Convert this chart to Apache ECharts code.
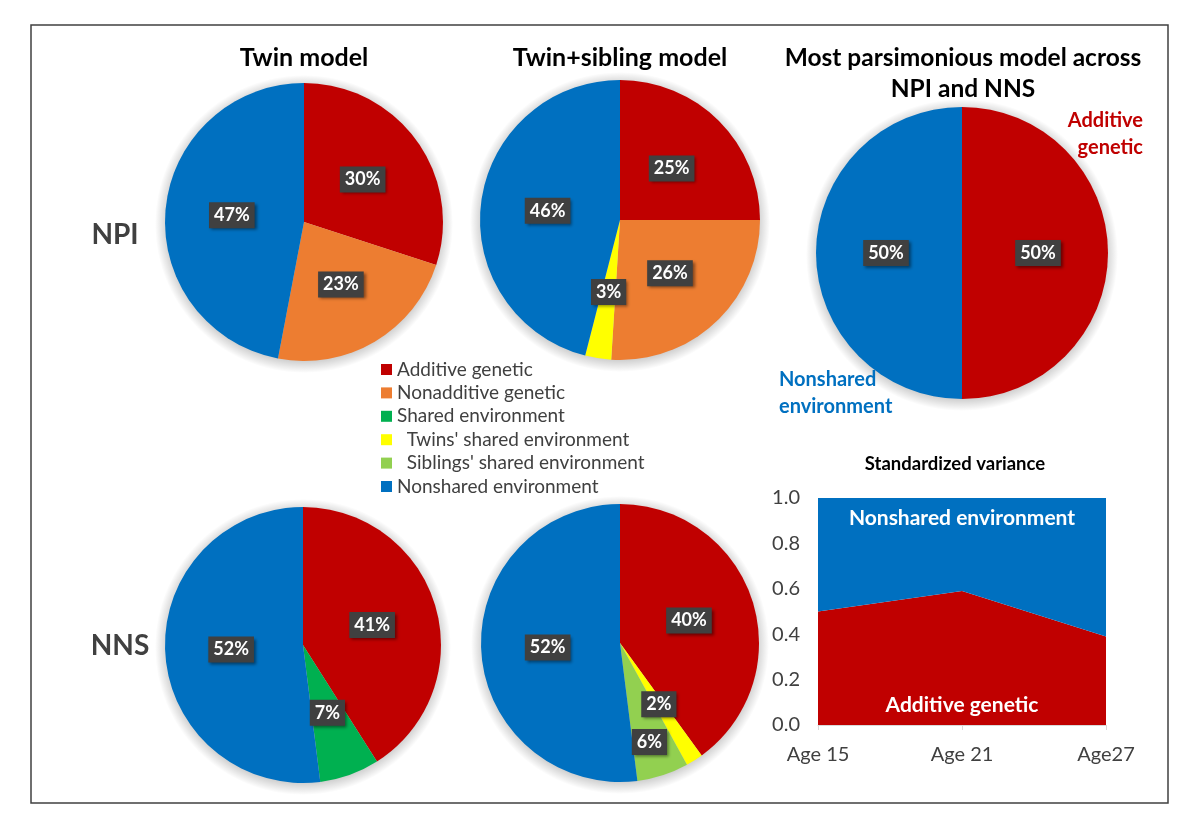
<!DOCTYPE html>
<html>
<head>
<meta charset="UTF-8">
<title>NPI / NNS variance components</title>
<script src="https://cdn.jsdelivr.net/npm/echarts@6/dist/echarts.min.js"></script>
<style>
  html, body { margin: 0; padding: 0; background: #fff; }
  #main { width: 1200px; height: 833px; }
</style>
</head>
<body>
<div id="main"></div>
<script>
// legend categories
var categories = ['Additive genetic', 'Nonadditive genetic', 'Shared environment',
  "Twins' shared environment", "Siblings' shared environment", 'Nonshared environment'];

// NPI pies (percent)
var npiTwinNames = ['Additive genetic', 'Nonadditive genetic', 'Nonshared environment'];
var npiTwinValues = [30, 23, 47];
var npiSibNames = ['Additive genetic', 'Nonadditive genetic', "Twins' shared environment", 'Nonshared environment'];
var npiSibValues = [25, 26, 3, 46];

// NNS pies (percent)
var nnsTwinNames = ['Additive genetic', 'Shared environment', 'Nonshared environment'];
var nnsTwinValues = [41, 7, 52];
var nnsSibNames = ['Additive genetic', "Twins' shared environment", "Siblings' shared environment", 'Nonshared environment'];
var nnsSibValues = [40, 2, 6, 52];

// most parsimonious model
var bestNames = ['Additive genetic', 'Nonshared environment'];
var bestValues = [50, 50];

// standardized variance by age
var ages = ['Age 15', 'Age 21', 'Age27'];
var additiveByAge = [0.50, 0.59, 0.39];
var nonsharedByAge = [0.50, 0.41, 0.61];
var yTicks = [0, 0.2, 0.4, 0.6, 0.8, 1.0];

var colorMap = {
  'Additive genetic': '#C00000',
  'Nonadditive genetic': '#ED7D31',
  'Shared environment': '#00B050',
  "Twins' shared environment": '#FFFF00',
  "Siblings' shared environment": '#92D050',
  'Nonshared environment': '#0070C0'
};
var FONT = 'Lato, "Open Sans", sans-serif';

var chart = echarts.init(document.getElementById('main'));

// soft halo under each pie: a slightly bigger disc with a radial fade
// (named after a legend entry, otherwise the legend filter drops it)
function shadowPie(center, r) {
  var R = r + 10;
  return {
    type: 'pie', silent: true, center: [center[0], center[1] + 2], radius: R, z: 1,
    label: { show: false }, labelLine: { show: false },
    itemStyle: {
      color: new echarts.graphic.RadialGradient(0.5, 0.5, 0.5, [
        { offset: 0, color: 'rgba(0,0,0,0.2)' },
        { offset: (r - 3) / R, color: 'rgba(0,0,0,0.2)' },
        { offset: 1, color: 'rgba(0,0,0,0)' }
      ])
    },
    data: [{ name: 'Nonshared environment', value: 1 }]
  };
}

function makePie(names, values, center, r, labelLayout) {
  return {
    type: 'pie', center: center, radius: r, z: 2,
    startAngle: 90, clockwise: true,
    label: {
      show: true, position: 'inside',
      formatter: '{c}%',
      color: '#fff', fontFamily: FONT, fontWeight: 'bold', fontSize: 18, lineHeight: 18,
      backgroundColor: '#404040', padding: [4, 5],
      shadowBlur: 3, shadowOffsetX: 2, shadowOffsetY: 2, shadowColor: 'rgba(0,0,0,0.45)'
    },
    labelLayout: labelLayout,
    labelLine: { show: false },
    data: names.map(function (n, i) {
      return { name: n, value: values[i], itemStyle: { color: colorMap[n] } };
    })
  };
}

var pies = [
  { names: npiTwinNames, values: npiTwinValues, c: [304, 222], r: 139 },
  { names: npiSibNames, values: npiSibValues, c: [620, 220], r: 140 },
  { names: bestNames, values: bestValues, c: [962, 253], r: 146 },
  { names: nnsTwinNames, values: nnsTwinValues, c: [303, 645], r: 138 },
  { names: nnsSibNames, values: nnsSibValues, c: [620, 643], r: 139,
    layout: function (p) { if (p.dataIndex === 2) return { dx: 7, dy: 30 }; } }
];

var series = [];
pies.forEach(function (p) { series.push(makePie(p.names, p.values, p.c, p.r, p.layout)); });
pies.forEach(function (p) { series.push(shadowPie(p.c, p.r)); });

series.push({
  name: 'Additive genetic', type: 'line', stack: 'var', color: '#C00000',
  symbol: 'none', lineStyle: { width: 0 },
  areaStyle: { color: '#C00000', opacity: 1 }, data: additiveByAge
}, {
  name: 'Nonshared environment', type: 'line', stack: 'var', color: '#0070C0',
  symbol: 'none', lineStyle: { width: 0 },
  areaStyle: { color: '#0070C0', opacity: 1 }, data: nonsharedByAge
});

function txt(x, y, text, size, color, align, lh) {
  return {
    type: 'text', x: x, y: y, z: 10, silent: true,
    style: {
      text: text, fill: color, font: 'bold ' + size + 'px ' + FONT,
      textAlign: align || 'center', textVerticalAlign: 'middle', lineHeight: lh || size * 1.2
    }
  };
}

var option = {
  backgroundColor: '#fff',
  animation: false,
  legend: {
    data: categories, orient: 'vertical', left: 376, top: 355, z: 5,
    icon: 'rect', itemWidth: 11, itemHeight: 11, itemGap: 4.4, selectedMode: false,
    formatter: function (n) { return n.indexOf("'") >= 0 ? '  ' + n : n; },
    textStyle: { color: '#404040', fontSize: 19, fontFamily: FONT, lineHeight: 19 }
  },
  grid: { left: 818, right: 94, top: 498, bottom: 108 },
  xAxis: {
    type: 'category', data: ages, boundaryGap: false,
    axisLine: { lineStyle: { color: '#D9D9D9', width: 1 } },
    axisTick: { show: true, length: 5, lineStyle: { color: '#D9D9D9' } },
    axisLabel: { color: '#404040', fontSize: 20, fontFamily: FONT, margin: 20 }
  },
  yAxis: {
    type: 'value', min: yTicks[0], max: yTicks[yTicks.length - 1], interval: 0.2,
    axisLine: { show: false }, axisTick: { show: false }, splitLine: { show: false },
    axisLabel: { color: '#404040', fontSize: 20, fontFamily: FONT, margin: 18,
      formatter: function (v) { return v.toFixed(1); } }
  },
  graphic: [
    { type: 'rect', silent: true, z: 0,
      shape: { x: 31, y: 25, width: 1137, height: 778 },
      style: { fill: 'none', stroke: '#404040', lineWidth: 1.5 } },
    txt(304, 58, 'Twin model', 25, '#000'),
    txt(620, 58, 'Twin+sibling model', 25, '#000'),
    txt(963, 74, 'Most parsimonious model across\nNPI and NNS', 24.5, '#000', 'center', 31),
    txt(115, 235, 'NPI', 28, '#404040'),
    txt(120, 646, 'NNS', 28, '#404040'),
    txt(1143, 134, 'Additive\ngenetic', 20, '#C00000', 'right', 27),
    txt(779, 393, 'Nonshared\nenvironment', 20, '#0070C0', 'left', 27),
    txt(955, 464, 'Standardized variance', 18.5, '#000'),
    txt(962, 518, 'Nonshared environment', 21, '#fff'),
    txt(962, 705, 'Additive genetic', 21, '#fff')
  ],
  series: series
};
chart.setOption(option);
</script>
</body>
</html>
